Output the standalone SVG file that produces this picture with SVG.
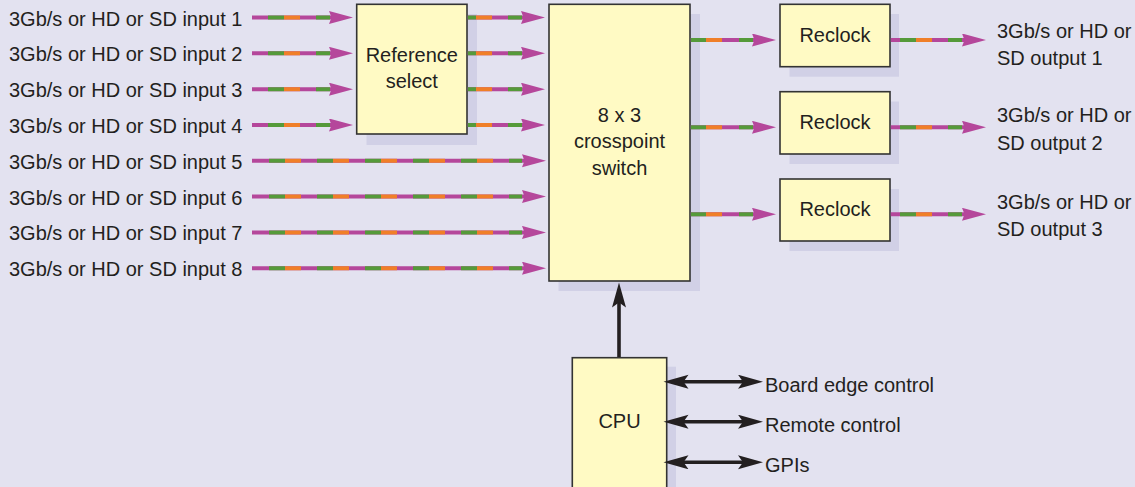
<svg xmlns="http://www.w3.org/2000/svg" width="1135" height="487" viewBox="0 0 1135 487">
<style>
text{font-family:"Liberation Sans",Arial,sans-serif;font-size:20px;fill:#231f20}
.c{text-anchor:middle}
.box{fill:#fffac4;stroke:#333;stroke-width:1.6}
.sh{fill:#d1d0e6}
.m{stroke:#b5479b;stroke-width:4;fill:none}
.g{stroke:#559a3a;stroke-width:4;fill:none}
.o{stroke:#f07f28;stroke-width:4;fill:none}
.dg{stroke-dasharray:16 32}
.k{stroke:#231f20;stroke-width:3.6;fill:none}
</style>
<defs>
<marker id="ah" markerUnits="userSpaceOnUse" markerWidth="26" markerHeight="14" refX="12" refY="6.5" orient="auto" viewBox="0 0 26 14">
<path d="M0,0 L24,6.5 L0,13 L2.5,6.5 Z" fill="#b5479b"/>
</marker>
<marker id="kh" markerUnits="userSpaceOnUse" markerWidth="26" markerHeight="16" refX="10" refY="7" orient="auto-start-reverse" viewBox="0 0 26 16">
<path d="M0,0 L25,7 L0,14 L5,7 Z" fill="#231f20"/>
</marker>
</defs>
<rect width="1135" height="487" fill="#e3e2f0"/>

<g id="input-labels">
<text x="9" y="25.5">3Gb/s or HD or SD input 1</text>
<text x="9" y="61.3">3Gb/s or HD or SD input 2</text>
<text x="9" y="97.2">3Gb/s or HD or SD input 3</text>
<text x="9" y="133">3Gb/s or HD or SD input 4</text>
<text x="9" y="168.8">3Gb/s or HD or SD input 5</text>
<text x="9" y="204.6">3Gb/s or HD or SD input 6</text>
<text x="9" y="240.4">3Gb/s or HD or SD input 7</text>
<text x="9" y="276.2">3Gb/s or HD or SD input 8</text>
</g>

<g id="reference-select">
<rect class="sh" x="366.5" y="14" width="110.5" height="131"/>
<rect class="box" x="356.7" y="4.3" width="110.3" height="129.7"/>
<text class="c" x="411.8" y="61.7">Reference</text>
<text class="c" x="411.8" y="88.3">select</text>
</g>

<g id="crosspoint">
<rect class="sh" x="558.5" y="14" width="141.5" height="277"/>
<rect class="box" x="549" y="4.3" width="141" height="276.7"/>
<text class="c" x="619.5" y="121.7">8 x 3</text>
<text class="c" x="619.5" y="148.3">crosspoint</text>
<text class="c" x="619.5" y="175">switch</text>
</g>

<g id="reclock-1">
<rect class="sh" x="789.5" y="14" width="109.5" height="62.7"/>
<rect class="box" x="780" y="4.3" width="110" height="62.4"/>
<text class="c" x="835" y="41.5">Reclock</text>
</g>
<g id="reclock-2">
<rect class="sh" x="789.5" y="101.5" width="109.5" height="62.5"/>
<rect class="box" x="780" y="91.7" width="110" height="62.3"/>
<text class="c" x="835" y="129">Reclock</text>
</g>
<g id="reclock-3">
<rect class="sh" x="789.5" y="189" width="109.5" height="62"/>
<rect class="box" x="780" y="179" width="110" height="62"/>
<text class="c" x="835" y="216">Reclock</text>
</g>

<g id="cpu">
<rect class="sh" x="582" y="366.7" width="94" height="130"/>
<rect class="box" x="572.3" y="357.7" width="94.4" height="140"/>
<text class="c" x="619.5" y="428">CPU</text>
</g>

<g id="output-labels">
<text x="997" y="37.5">3Gb/s or HD or</text>
<text x="997" y="64.5">SD output 1</text>
<text x="997" y="122">3Gb/s or HD or</text>
<text x="997" y="149.5">SD output 2</text>
<text x="997" y="208.5">3Gb/s or HD or</text>
<text x="997" y="236">SD output 3</text>
</g>

<g id="control-labels">
<text x="765" y="391.7">Board edge control</text>
<text x="765" y="431.7">Remote control</text>
<text x="765" y="471.7">GPIs</text>
</g>

<g id="connectors">
<!-- inputs 1-4 to reference select -->
<g>
<line class="m" x1="252" y1="17.5" x2="341" y2="17.5" marker-end="url(#ah)"/>
<line class="g dg" x1="268" y1="17.5" x2="330" y2="17.5"/>
<line class="o dg" x1="284" y1="17.5" x2="330" y2="17.5"/>
<line class="m" x1="252" y1="53.3" x2="341" y2="53.3" marker-end="url(#ah)"/>
<line class="g dg" x1="268" y1="53.3" x2="330" y2="53.3"/>
<line class="o dg" x1="284" y1="53.3" x2="330" y2="53.3"/>
<line class="m" x1="252" y1="89.2" x2="341" y2="89.2" marker-end="url(#ah)"/>
<line class="g dg" x1="268" y1="89.2" x2="330" y2="89.2"/>
<line class="o dg" x1="284" y1="89.2" x2="330" y2="89.2"/>
<line class="m" x1="252" y1="125" x2="341" y2="125" marker-end="url(#ah)"/>
<line class="g dg" x1="268" y1="125" x2="330" y2="125"/>
<line class="o dg" x1="284" y1="125" x2="330" y2="125"/>
</g>
<!-- inputs 5-8 to crosspoint -->
<g>
<line class="m" x1="252" y1="160.8" x2="534" y2="160.8" marker-end="url(#ah)"/>
<line class="g dg" x1="269" y1="160.8" x2="522" y2="160.8"/>
<line class="o dg" x1="285" y1="160.8" x2="522" y2="160.8"/>
<line class="m" x1="252" y1="196.6" x2="534" y2="196.6" marker-end="url(#ah)"/>
<line class="g dg" x1="269" y1="196.6" x2="522" y2="196.6"/>
<line class="o dg" x1="285" y1="196.6" x2="522" y2="196.6"/>
<line class="m" x1="252" y1="232.4" x2="534" y2="232.4" marker-end="url(#ah)"/>
<line class="g dg" x1="269" y1="232.4" x2="522" y2="232.4"/>
<line class="o dg" x1="285" y1="232.4" x2="522" y2="232.4"/>
<line class="m" x1="252" y1="268.2" x2="534" y2="268.2" marker-end="url(#ah)"/>
<line class="g dg" x1="269" y1="268.2" x2="522" y2="268.2"/>
<line class="o dg" x1="285" y1="268.2" x2="522" y2="268.2"/>
</g>
<!-- reference select to crosspoint -->
<g>
<line class="m" x1="467.8" y1="17.5" x2="533" y2="17.5" marker-end="url(#ah)"/>
<line class="g" x1="467.8" y1="17.5" x2="476" y2="17.5"/><line class="o" x1="476" y1="17.5" x2="492" y2="17.5"/><line class="g" x1="508" y1="17.5" x2="522" y2="17.5"/>
<line class="m" x1="467.8" y1="53.3" x2="533" y2="53.3" marker-end="url(#ah)"/>
<line class="g" x1="467.8" y1="53.3" x2="476" y2="53.3"/><line class="o" x1="476" y1="53.3" x2="492" y2="53.3"/><line class="g" x1="508" y1="53.3" x2="522" y2="53.3"/>
<line class="m" x1="467.8" y1="89.2" x2="533" y2="89.2" marker-end="url(#ah)"/>
<line class="g" x1="467.8" y1="89.2" x2="476" y2="89.2"/><line class="o" x1="476" y1="89.2" x2="492" y2="89.2"/><line class="g" x1="508" y1="89.2" x2="522" y2="89.2"/>
<line class="m" x1="467.8" y1="125" x2="533" y2="125" marker-end="url(#ah)"/>
<line class="g" x1="467.8" y1="125" x2="476" y2="125"/><line class="o" x1="476" y1="125" x2="492" y2="125"/><line class="g" x1="508" y1="125" x2="522" y2="125"/>
</g>
<!-- crosspoint to reclocks -->
<g>
<line class="m" x1="690.8" y1="40" x2="764" y2="40" marker-end="url(#ah)"/>
<line class="g" x1="690.8" y1="40" x2="706" y2="40"/><line class="o" x1="706" y1="40" x2="722" y2="40"/><line class="g" x1="739" y1="40" x2="753" y2="40"/>
<line class="m" x1="690.8" y1="127.3" x2="764" y2="127.3" marker-end="url(#ah)"/>
<line class="g" x1="690.8" y1="127.3" x2="706" y2="127.3"/><line class="o" x1="706" y1="127.3" x2="722" y2="127.3"/><line class="g" x1="739" y1="127.3" x2="753" y2="127.3"/>
<line class="m" x1="690.8" y1="214.3" x2="764" y2="214.3" marker-end="url(#ah)"/>
<line class="g" x1="690.8" y1="214.3" x2="706" y2="214.3"/><line class="o" x1="706" y1="214.3" x2="722" y2="214.3"/><line class="g" x1="739" y1="214.3" x2="753" y2="214.3"/>
</g>
<!-- reclocks to outputs -->
<g>
<line class="m" x1="890.8" y1="40" x2="974" y2="40" marker-end="url(#ah)"/>
<line class="g" x1="900" y1="40" x2="916" y2="40"/><line class="o" x1="916" y1="40" x2="932" y2="40"/><line class="g" x1="948" y1="40" x2="962" y2="40"/>
<line class="m" x1="890.8" y1="127.3" x2="974" y2="127.3" marker-end="url(#ah)"/>
<line class="g" x1="900" y1="127.3" x2="916" y2="127.3"/><line class="o" x1="916" y1="127.3" x2="932" y2="127.3"/><line class="g" x1="948" y1="127.3" x2="962" y2="127.3"/>
<line class="m" x1="890.8" y1="214.3" x2="974" y2="214.3" marker-end="url(#ah)"/>
<line class="g" x1="900" y1="214.3" x2="916" y2="214.3"/><line class="o" x1="916" y1="214.3" x2="932" y2="214.3"/><line class="g" x1="948" y1="214.3" x2="962" y2="214.3"/>
</g>
<!-- CPU control -->
<line class="k" x1="619" y1="357" x2="619" y2="297.5" stroke-width="4" marker-end="url(#kh)"/>
<line class="k" x1="678.5" y1="381.7" x2="748" y2="381.7" marker-start="url(#kh)" marker-end="url(#kh)"/>
<line class="k" x1="678.5" y1="421.7" x2="748" y2="421.7" marker-start="url(#kh)" marker-end="url(#kh)"/>
<line class="k" x1="678.5" y1="462.3" x2="748" y2="462.3" marker-start="url(#kh)" marker-end="url(#kh)"/>
</g>
</svg>
